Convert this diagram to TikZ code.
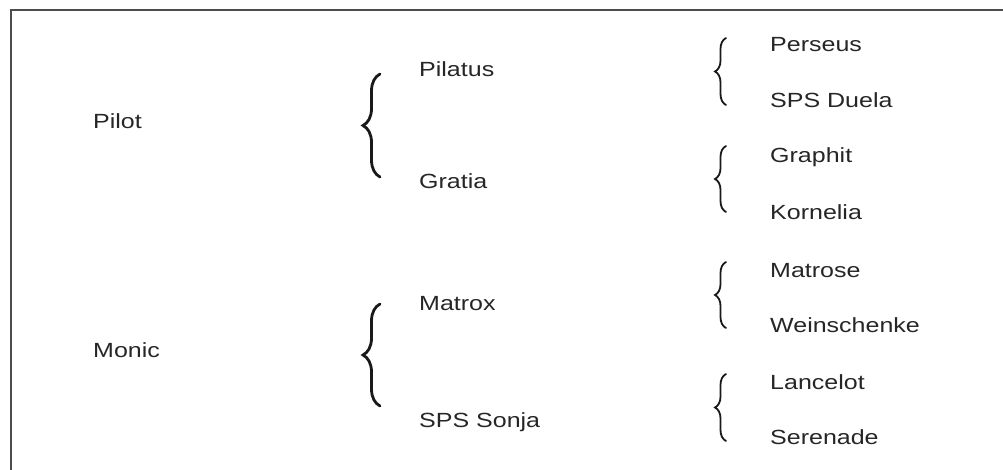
\documentclass[tikz,border=0pt]{standalone}
\usepackage{fontspec}
\setmainfont{Liberation Sans}[FakeStretch=1.22]
\usepackage{tikz}
\usetikzlibrary{decorations.pathreplacing}

\tikzset{
  lbl/.style={anchor=base west,inner sep=0pt,text=black!85,font=\fontsize{20.5}{24}\selectfont},
  bigbrace/.style={decorate,decoration={brace,amplitude=17pt},line width=2.8pt,line cap=round,black!90},
  smallbrace/.style={decorate,decoration={brace,amplitude=11pt},line width=1.8pt,line cap=round,black!90}
}

\begin{document}
\begin{tikzpicture}[x=1pt,y=-1pt]
\clip (0,0) rectangle (1003,470);
\draw[line width=1.5pt,black!70] (11,10) rectangle (1020,490);
% first column
\node[lbl] (pilot) at (93,129) {Pilot};
\node[lbl] (monic) at (93,357) {Monic};
% second column
\node[lbl] (pilatus) at (419,77) {Pilatus};
\node[lbl] (gratia) at (419,189) {Gratia};
\node[lbl] (matrox) at (419,310) {Matrox};
\node[lbl] (sonja) at (419,427) {SPS Sonja};
% third column
\foreach \name/\y/\txt in {perseus/52/Perseus,duela/108/SPS Duela,graphit/163/Graphit,kornelia/220/Kornelia,matrose/277/Matrose,weinschenke/332/Weinschenke,lancelot/389/Lancelot,serenade/444/Serenade}
\node[lbl] (\name) at (770,\y) {\txt};
% braces
\draw[bigbrace] (380,177) -- (380,74);
\draw[bigbrace] (380,406) -- (380,304);
\foreach \ya/\yb in {105/38,212/146,328/262,441/374}
\draw[smallbrace] (726,\ya) -- (726,\yb);
\end{tikzpicture}
\end{document}
